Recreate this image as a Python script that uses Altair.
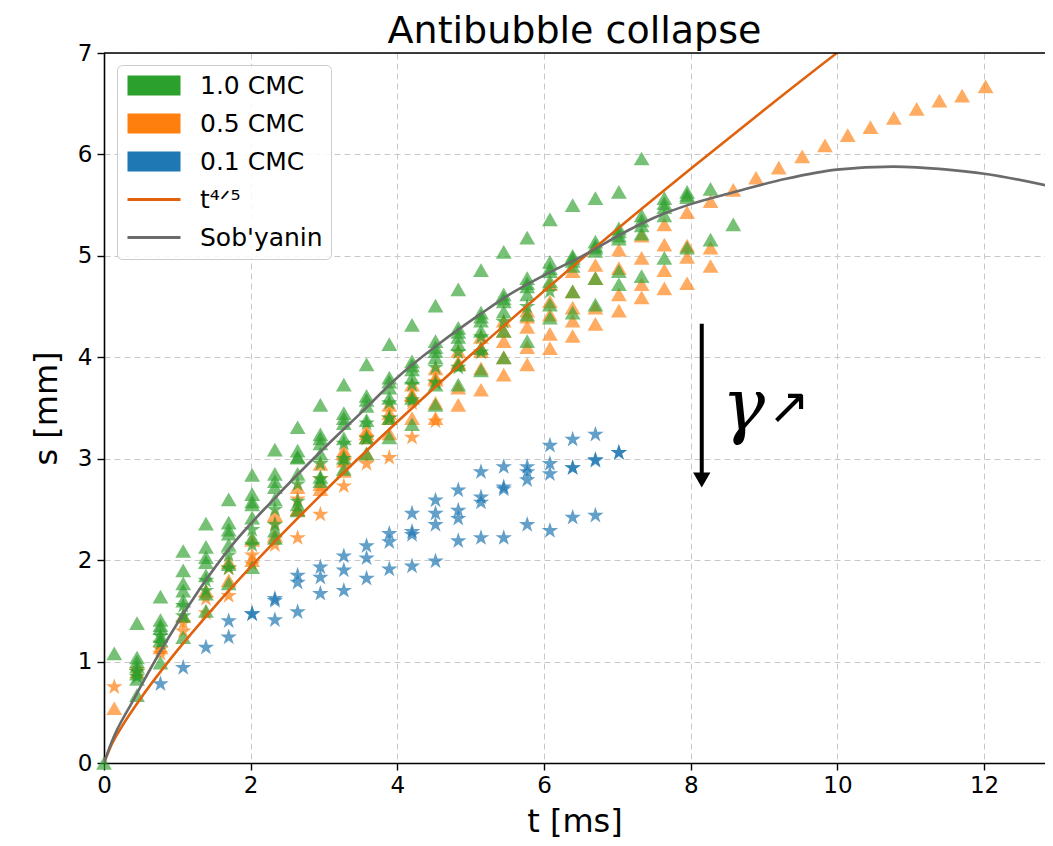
import altair as alt
import pandas as pd

TITLE = "Antibubble collapse"
X_TITLE = "t [ms]"
Y_TITLE = "s [mm]"
X_TICKS = [0, 2, 4, 6, 8, 10, 12]
Y_TICKS = [0, 1, 2, 3, 4, 5, 6, 7]
X_MAX = 12.83

LABELS = ["1.0 CMC", "0.5 CMC", "0.1 CMC", "t⁴ᐟ⁵", "Sob'yanin"]
COLORS = ["#2ca02c", "#ff7f0e", "#1f77b4", "#e0620d", "#6b6b6b"]

# frame times [ms]
TIMES = [0.14, 0.45, 0.77, 1.08, 1.39, 1.70, 2.02, 2.33, 2.64, 2.95,
         3.27, 3.58, 3.89, 4.20, 4.52, 4.83, 5.14, 5.45, 5.77, 6.08,
         6.39, 6.70, 7.02, 7.33, 7.64, 7.95, 8.27, 8.58, 8.89, 9.20,
         9.52, 9.83, 10.14, 10.45, 10.77, 11.08, 11.39, 11.70, 12.02]

# 1.0 CMC (triangles)
G1 = [1.08, 1.38, 1.64, 2.09, 2.36, 2.60, 2.84, 3.09, 3.31, 3.53, 3.73, 3.93,
      4.13, 4.32, 4.51, 4.67, 4.86, 5.04, 5.18, 5.36, 5.50, 5.57, 5.63, 5.96]
G2 = [1.04, 1.41, 1.90, 2.13, 2.37, 2.65, 2.85, 3.08, 3.24, 3.45, 3.62, 3.80,
      3.96, 4.16, 4.29, 4.44, 4.62, 4.78, 4.94, 5.00, 5.14, 5.27, 5.40, 5.57,
      5.63, 5.66]
G3 = [0.95, 1.33, 1.77, 1.98, 2.26, 2.55, 2.72, 3.01, 3.15, 3.35, 3.52, 3.70,
      3.88, 4.06, 4.20, 4.36, 4.55, 4.70, 4.85, 4.95, 5.08, 5.20, 5.30, 5.48, 5.60]
G4 = [0.88, 1.25, 1.60, 1.85, 2.15, 2.42, 2.60, 2.85, 3.05, 3.20, 3.38, 3.60,
      3.80, 4.00, 4.13, 4.26, 4.45, 4.62, 4.75, 4.90, 5.05, 5.17, 5.22, 5.40]
G5 = [0.67, 0.99, 1.24, 1.50, 1.77, 1.93, 2.22, 2.49, 2.78, 2.90, 3.05, 3.21,
      3.34, 3.53, 3.73, 3.87, 4.00, 4.16, 4.39, 4.44, 4.52, 4.72, 4.80, 4.98,
      5.08, 5.16, 5.31]
G6 = [0.83, 1.21, 1.45, 1.67, 1.96, 2.22, 2.29, 2.55, 2.82, 3.01, 3.21, 3.40,
      3.60, 3.73, 3.93, 4.09, 4.26, 4.42, 4.52, 4.65, 4.78, 4.85]
G7 = [1.00, 1.36, 1.70, 2.03, 2.30, 2.58, 2.78, 3.02, 3.20, 3.40, 3.58, 3.76,
      3.92, 4.10, 4.25, 4.40, 4.58, 4.73, 4.88, 4.98, 5.10, 5.24, 5.35, 5.52, 5.58]
# 1.0 CMC (stars)
GS1 = [0.90, 1.25, 1.55, 1.80, 2.05, 2.30, 2.50, 2.75, 2.95, 3.15, 3.35, 3.55,
       3.73, 3.90, 4.05, 4.20, 4.35, 4.50, 4.65]
GS2 = [0.85, 1.18, 1.45, 1.70, 1.92, 2.15, 2.35, 2.58, 2.80, 3.00, 3.20, 3.40,
       3.58, 3.75, 3.90, 4.05]

# 0.5 CMC (triangles)
O1 = [0.54, 0.90, 1.14, 1.45, 1.70, 1.98, 2.20, 2.45, 2.72, 2.95, 3.08, 3.28,
      3.53, 3.73, 3.89, 4.06, 4.20, 4.36, 4.46, 4.72, 4.85, 4.91, 5.06, 5.20,
      5.31, 5.43, 5.54, 5.65, 5.77, 5.87, 5.98, 6.09, 6.19, 6.27, 6.36, 6.45,
      6.53, 6.58, 6.67]
OA = [3.05, 3.25, 3.45, 3.63, 3.80, 3.95, 4.09, 4.26, 4.40, 4.55, 4.65, 4.78,
      4.88, 4.98, 5.11, 5.10, 5.08]
OB = [2.50, 2.70, 2.88, 3.05, 3.25, 3.40, 3.55, 3.70, 3.89, 4.00, 4.10, 4.23,
      4.36, 4.49, 4.62, 4.72, 4.86, 4.99, 4.90]
OC = [3.40, 3.53, 3.68, 3.83, 3.93, 4.09, 4.21, 4.33, 4.46, 4.59, 4.68, 4.73]
OD = [1.80, 2.00, 2.25, 2.50, 2.75, 2.98, 3.21, 3.40, 3.63, 3.78, 3.93, 4.06,
      4.16, 4.30, 4.42, 4.49]
# 0.5 CMC (stars)
OS1 = [0.75, 0.90, 1.08, 1.30, 1.48, 1.65, 1.96, 2.15, 2.22, 2.45, 2.73, 2.95,
       3.01, 3.21, 3.37]
OS2 = [0.92, 1.12, 1.38, 1.62, 1.92, 2.05, 2.36, 2.60, 2.80, 2.98, 3.21, 3.40,
       3.55, 3.76]

# 0.1 CMC (stars)
BA = [1.40, 1.47, 1.62, 1.85, 1.93, 2.04, 2.14, 2.26, 2.46, 2.59, 2.69, 2.87,
      2.92, 2.92, 3.13, 3.19, 3.24]
BB = [1.60, 1.78, 1.83, 1.90, 2.02, 2.18, 2.28, 2.46, 2.49, 2.62, 2.70, 2.87,
      2.95, 2.91, 2.98, 3.06]
BC = [2.25, 2.35, 2.41, 2.57, 2.72, 2.79, 2.85, 2.91, 2.99, 3.06]
BD = [0.78, 0.94, 1.14, 1.24, 1.47, 1.41, 1.49, 1.67, 1.70, 1.82, 1.91, 1.94,
      1.99, 2.19, 2.22, 2.22, 2.35, 2.29, 2.42, 2.44]

ORIGIN_T = [0.0]
ORIGIN_S = [0.0]

# (label, marker, first frame index, values)
RUNS = [
    ("0.5 CMC", "tri", 0, O1), ("0.5 CMC", "tri", 10, OA), ("0.5 CMC", "tri", 8, OB),
    ("0.5 CMC", "tri", 14, OC), ("0.5 CMC", "tri", 5, OD),
    ("0.5 CMC", "star", 0, OS1), ("0.5 CMC", "star", 1, OS2),
    ("1.0 CMC", "tri", 0, G1), ("1.0 CMC", "tri", 1, G2), ("1.0 CMC", "tri", 1, G3),
    ("1.0 CMC", "tri", 1, G4), ("1.0 CMC", "tri", 1, G5), ("1.0 CMC", "tri", 1, G6),
    ("1.0 CMC", "tri", 1, G7),
    ("1.0 CMC", "star", 1, GS1), ("1.0 CMC", "star", 1, GS2),
    ("0.1 CMC", "star", 5, BA), ("0.1 CMC", "star", 7, BB), ("0.1 CMC", "star", 13, BC),
    ("0.1 CMC", "star", 2, BD),
]

# model curves
T45_T = [0, 0.1, 0.25, 0.5, 1, 1.5, 2, 3, 4, 5, 6, 7, 8, 9, 10, 10.5]
T45_S = [0, 0.176, 0.366, 0.637, 1.11, 1.535, 1.933, 2.673, 3.364, 4.023,
         4.654, 5.265, 5.858, 6.438, 7.004, 7.28]
SOB_T = [0, 0.1, 0.4, 0.85, 1.3, 1.76, 2.3, 3.08, 3.5, 4.03, 4.6, 5.12, 5.53,
         6.03, 6.5, 7.17, 7.58, 8.0, 8.6, 9.3, 9.99, 10.76, 11.5, 12.0, 12.94]
SOB_S = [0, 0.2, 0.62, 1.20, 1.71, 2.16, 2.59, 3.16, 3.45, 3.82, 4.15, 4.42,
         4.62, 4.82, 4.99, 5.26, 5.40, 5.51, 5.63, 5.76, 5.85, 5.88, 5.85,
         5.81, 5.68]

# annotation
ARROW_T = [8.15]
ARROW_TOP = [4.33]
ARROW_END = [2.86]
ARROW_TIP = [2.79]
GAMMA_T = [8.72]
GAMMA_S = [3.50]
NEAR_T = [9.34]
NEAR_S = [3.50]

STAR = ("M0,-1L0.2245,-0.309L0.951,-0.309L0.363,0.118L0.588,0.809L0,0.382"
        "L-0.588,0.809L-0.363,0.118L-0.951,-0.309L-0.2245,-0.309Z")
RECT = "M-1,-1H4.3V1H-1Z"
LINE = "M-1,-0.14H4.3V0.14H-1Z"
COLOR_OF = dict(zip(LABELS, COLORS))

rows = []
for lab, mk, k0, vals in RUNS:
    for i, v in enumerate(vals):
        rows.append({"label": lab, "marker": mk, "t": TIMES[k0 + i], "s": v})
for t, s in zip(ORIGIN_T, ORIGIN_S):
    rows.append({"label": "1.0 CMC", "marker": "tri", "t": t, "s": s})
pts = pd.DataFrame(rows)

FONT = "DejaVu Sans"
XS = alt.Scale(domain=[0, X_MAX], nice=False, zero=False)
YS = alt.Scale(domain=[Y_TICKS[0], Y_TICKS[-1]], nice=False, zero=False)

x_axis = alt.Axis(values=X_TICKS, title=X_TITLE, format="d", grid=True,
                  gridDash=[6, 4], gridColor="#c8c8c8", gridWidth=1,
                  domainColor="black", domainWidth=1.6, tickColor="black",
                  tickSize=7, tickWidth=1.4, labelFontSize=23, labelFont=FONT,
                  labelColor="black", labelPadding=4, labelFlush=False,
                  titleFontSize=32, titleFont=FONT, titleFontWeight="normal",
                  titleColor="black", titlePadding=9)
y_axis = alt.Axis(values=Y_TICKS, title=Y_TITLE, format="d", grid=True,
                  gridDash=[6, 4], gridColor="#c8c8c8", gridWidth=1,
                  domainColor="black", domainWidth=1.6, tickColor="black",
                  tickSize=7, tickWidth=1.4, labelFontSize=23, labelFont=FONT,
                  labelColor="black", labelPadding=5, labelFlush=False,
                  titleFontSize=32, titleFont=FONT, titleFontWeight="normal",
                  titleColor="black", titlePadding=14)


def X(field):
    return alt.X(field, scale=XS, axis=x_axis)


def Y(field):
    return alt.Y(field, scale=YS, axis=y_axis)


layers = []
for lab, mk in [("0.5 CMC", "tri"), ("0.5 CMC", "star"), ("1.0 CMC", "tri"),
                ("1.0 CMC", "star"), ("0.1 CMC", "star")]:
    if mk == "tri":
        mark = dict(shape="triangle-up", size=250, opacity=0.65)
    else:
        mark = dict(shape=STAR, size=300, opacity=0.7)
    layers.append(
        alt.Chart(pts)
        .transform_filter((alt.datum.label == lab) & (alt.datum.marker == mk))
        .mark_point(filled=True, color=COLOR_OF[lab], **mark)
        .encode(x=X("t:Q"), y=Y("s:Q"))
    )

for lab, tt, ss in [(LABELS[3], T45_T, T45_S), (LABELS[4], SOB_T, SOB_S)]:
    layers.append(
        alt.Chart(pd.DataFrame({"t": tt, "s": ss}))
        .mark_line(strokeWidth=2.6, interpolate="monotone", clip=True, color=COLOR_OF[lab])
        .encode(x=X("t:Q"), y=Y("s:Q"))
    )

top_df = pd.DataFrame({"s": [Y_TICKS[-1]]})
layers.append(alt.Chart(top_df).mark_rule(color="black", strokeWidth=1.6).encode(y=Y("s:Q")))

arrow_df = pd.DataFrame({"t": ARROW_T, "s1": ARROW_TOP, "s2": ARROW_END, "tip": ARROW_TIP})
layers.append(alt.Chart(arrow_df).mark_rule(color="black", strokeWidth=4).encode(
    x=X("t:Q"), y=Y("s1:Q"), y2="s2:Q"))
layers.append(alt.Chart(arrow_df).mark_point(shape="triangle-down", filled=True, color="black",
                                             size=300, opacity=1).encode(
    x=X("t:Q"), y=Y("tip:Q")))
layers.append(alt.Chart(pd.DataFrame({"t": GAMMA_T, "s": GAMMA_S, "txt": ["γ"]})).mark_text(
    font="DejaVu Serif", fontStyle="italic", fontSize=72, color="black", baseline="middle"
).encode(x=X("t:Q"), y=Y("s:Q"), text="txt:N"))
layers.append(alt.Chart(pd.DataFrame({"t": NEAR_T, "s": NEAR_S, "txt": ["↗"]})).mark_text(
    font="DejaVu Sans", fontSize=50, color="black", baseline="middle"
).encode(x=X("t:Q"), y=Y("s:Q"), text="txt:N"))

leg = alt.Legend(title=None, orient="none", legendX=13, legendY=12,
                 labelFontSize=25, labelFont=FONT, labelColor="black",
                 symbolSize=400, symbolStrokeWidth=0, symbolOpacity=1,
                 labelOffset=50, padding=8, rowPadding=12,
                 fillColor="rgba(255,255,255,0.85)", strokeColor="#cccccc",
                 cornerRadius=5, labelLimit=400)
legend_df = pd.DataFrame({"label": LABELS})
layers.append(alt.Chart(legend_df).mark_point(filled=True, size=0, strokeWidth=0).encode(
    fill=alt.Fill("label:N", scale=alt.Scale(domain=LABELS, range=COLORS), legend=leg),
    shape=alt.Shape("label:N", scale=alt.Scale(domain=LABELS, range=[RECT, RECT, RECT, LINE, LINE]),
                    legend=leg),
))

chart = alt.layer(*layers).properties(
    width=941, height=710,
    title=alt.TitleParams(TITLE, fontSize=38, font=FONT, fontWeight="normal",
                          color="black", frame="group", anchor="middle", offset=-9),
    autosize=alt.AutoSizeParams(type="none"),
    padding={"left": 96, "top": 45, "right": 0, "bottom": 75},
).configure_view(stroke=None).configure(background="white")

chart.save("out.html", embed_options={"renderer": "svg", "actions": False})
